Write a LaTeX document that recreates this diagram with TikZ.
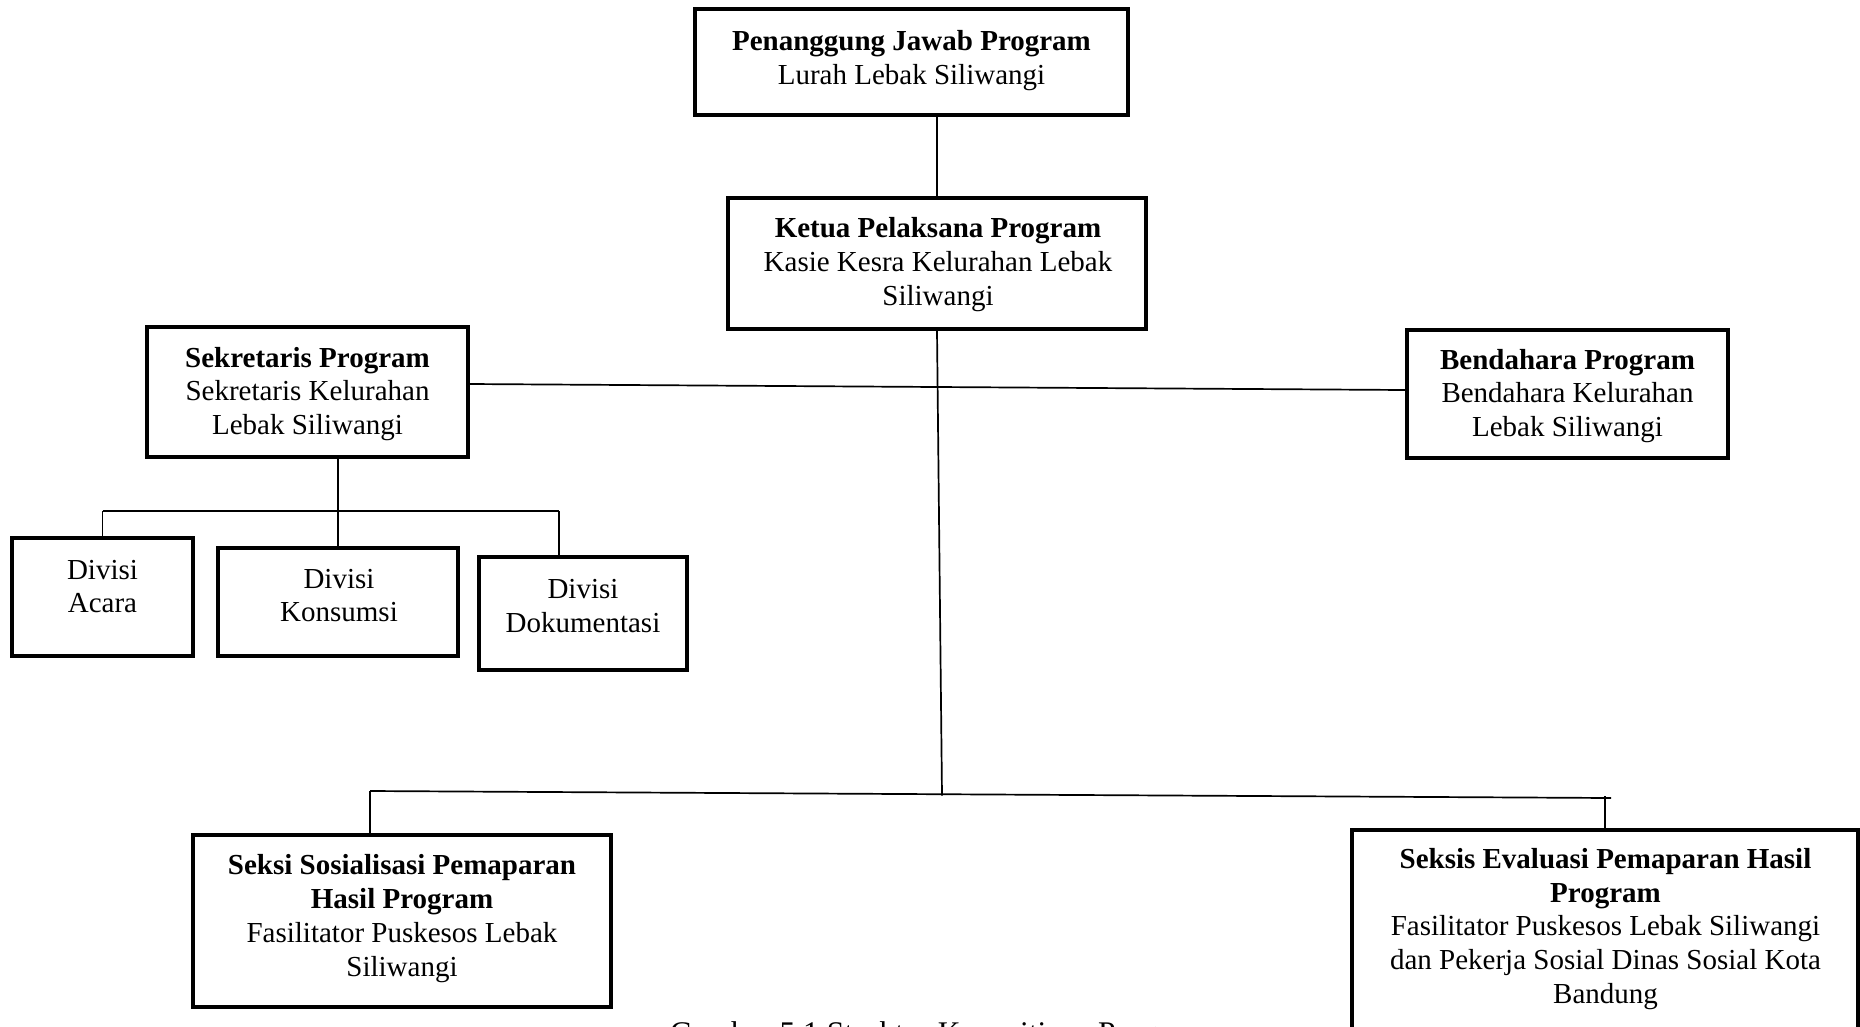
\documentclass[tikz,border=0pt]{standalone}
\usepackage{fontspec}
\setmainfont{Liberation Serif}
\begin{document}
\begin{tikzpicture}[x=1pt,y=-1pt,
  box/.style={draw, rectangle, line width=4.2pt, inner sep=0pt},
  txt/.style={align=center, inner sep=0pt, font=\fontsize{29}{33.8}\selectfont},
  wire/.style={line width=1.7pt}]
\useasboundingbox (0,0) rectangle (1860,1026);
\begin{scope}
\clip (0,0) rectangle (1860,1026);
% boxes
\node[box, minimum width=433pt, minimum height=106pt] (pj) at (911.5,62) {};
\node[box, minimum width=418pt, minimum height=131pt] (ketua) at (937,263.5) {};
\node[box, minimum width=321pt, minimum height=130pt] (sek) at (307.5,392) {};
\node[box, minimum width=321pt, minimum height=128pt] (bend) at (1567.5,394) {};
\node[box, minimum width=181pt, minimum height=118pt] (acara) at (102.5,597) {};
\node[box, minimum width=240pt, minimum height=108pt] (kons) at (338,602) {};
\node[box, minimum width=208pt, minimum height=113pt] (dok) at (583,613.5) {};
\node[box, minimum width=418pt, minimum height=172pt] (sos) at (402,921) {};
\node[box, minimum width=506pt, minimum height=215pt] (eval) at (1605,937.5) {};
% texts
\node[txt] (pjT) at (911.5,60.2) {\textbf{Penanggung Jawab Program}\\Lurah Lebak Siliwangi};
\node[txt] (ketuaT) at (938,264.7) {\textbf{Ketua Pelaksana Program}\\Kasie Kesra Kelurahan Lebak\\Siliwangi};
\node[txt] (sekT) at (307.5,394) {\textbf{Sekretaris Program}\\Sekretaris Kelurahan\\Lebak Siliwangi};
\node[txt] (bendT) at (1567.5,396) {\textbf{Bendahara Program}\\Bendahara Kelurahan\\Lebak Siliwangi};
\node[txt] (acaraT) at (102.5,586.5) {Divisi\\Acara};
\node[txt] (konsT) at (339,595.5) {Divisi\\Konsumsi};
\node[txt] (dokT) at (583,606) {Divisi\\Dokumentasi};
\node[txt] (sosT) at (402,918.7) {\textbf{Seksi Sosialisasi Pemaparan}\\\textbf{Hasil Program}\\Fasilitator Puskesos Lebak\\Siliwangi};
\node[txt] (evalT) at (1605.5,929) {\textbf{Seksis Evaluasi Pemaparan Hasil}\\\textbf{Program}\\Fasilitator Puskesos Lebak Siliwangi\\dan Pekerja Sosial Dinas Sosial Kota\\Bandung};
\node[anchor=base west, inner sep=0pt, font=\fontsize{31.5}{36}\selectfont] (caption) at (670,1043) {Gambar 5.1 Struktur Kepanitiaan Program};
% coordinates
\coordinate (dbL) at (102.5,511);
\coordinate (dbR) at (559,511);
\coordinate (bbL) at (370,791);
\coordinate (bbK) at (942,795.5);
\coordinate (bbR) at (1611,798);
% connectors
\draw[wire] (ketua.north |- pj.south) -- (ketua.north);
\draw[wire] (ketua.south) -- (bbK);
\draw[wire] ([yshift=8pt]sek.east) -- ([yshift=4pt]bend.west);
\draw[wire] (kons.north |- sek.south) -- (kons.north);
\draw[wire] (dbL) -- (dbR);
\draw[wire] (dbL) -- (acara.north);
\draw[wire] (dbR) -- (dbR |- dok.north);
\draw[wire] (bbL) -- (bbR);
\draw[wire] (bbL) -- (bbL |- sos.north);
\draw[wire] (eval.north) -- ++(0,-32);
\end{scope}
\end{tikzpicture}
\end{document}
